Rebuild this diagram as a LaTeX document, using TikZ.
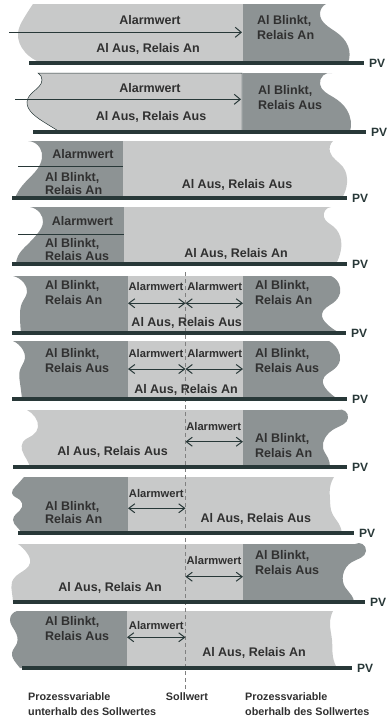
\documentclass[tikz,border=0pt]{standalone}
\usepackage{fontspec}
\setmainfont{Liberation Sans}
\usepackage{tikz}
\usetikzlibrary{hobby,arrows.meta}
\definecolor{lightgr}{HTML}{C8C9C9}
\definecolor{darkgr}{HTML}{8D9394}
\definecolor{linegr}{HTML}{283838}
\definecolor{textgr}{HTML}{303030}
\tikzset{
    lightpart/.style={fill=lightgr},
    darkpart/.style={fill=darkgr},
    pvline/.style={draw=linegr, line width=4pt},
    pvlbl/.style={anchor=west, xshift=3pt, inner sep=0pt, text=linegr, font=\bfseries\fontsize{12}{14}\selectfont},
    lbl/.style={inner sep=0pt, text=textgr, font=\bfseries\fontsize{12.5}{15}\selectfont},
    twolbl/.style={lbl, anchor=west, align=left},
    tight/.style={font=\bfseries\fontsize{12.5}{13}\selectfont},
    alm/.style={lbl, font=\bfseries\fontsize{11.2}{13}\selectfont},
    thresh/.style={draw=linegr, line width=1pt},
    pointer/.style={thresh, -{Straight Barb[length=6pt,width=10pt]}},
    span/.style={thresh, {Straight Barb[length=6pt,width=9pt]}-{Straight Barb[length=6pt,width=9pt]}},
    setp/.style={draw=gray, line width=0.7pt, dash pattern=on 4pt off 3pt},
    foot/.style={inner sep=0pt, text=textgr, font=\bfseries\fontsize{10.8}{15}\selectfont, align=left}
}
\begin{document}
\begin{tikzpicture}[x=1pt,y=-1pt]
        \useasboundingbox (0,0) rectangle (389,721);
        % band 1
        \fill[lightpart] (243,4) -- (33,4) to [curve through={(24,18) (18,33) (25,52)}] (42,63) -- (243,63) -- cycle;
        \fill[darkpart] (243,4) -- (326,4) to [curve through={(320,14) (336,32) (348,46)}] (348,63) -- (243,63) -- cycle;
        % band 2
        \filldraw[lightpart, draw=linegr, line width=0.5pt] (242,73) -- (38,73) to [curve through={(42,80) (33,92) (27,102) (33,114) (47,124)}] (60,132) -- (242,132) -- cycle;
        \fill[darkpart] (242.3,73) -- (332,73) to [curve through={(320,84) (333,97) (347,110)}] (350,132) -- (242.3,132) -- cycle;
        % band 3
        \fill[darkpart] (123,141) -- (28,141) to [curve through={(40,148) (42,158) (35,172) (22,186)}] (15,198) -- (123,198) -- cycle;
        \fill[lightpart] (123,141) -- (333,141) to [curve through={(330,152) (343,167) (347,183)}] (342,198) -- (123,198) -- cycle;
        % band 4
        \fill[darkpart] (124,207) -- (30,207) to [curve through={(40,213) (43,222) (38,233) (27,245) (18,256)}] (16,264) -- (124,264) -- cycle;
        \fill[lightpart] (124,207) -- (331,207) to [curve through={(324,217) (334,227) (341,240) (340,254)}] (336,264) -- (124,264) -- cycle;
        % band 5
        \fill[darkpart] (128,276) -- (13,276) to [curve through={(24,283) (27,292) (22,303) (20,317)}] (21,333) -- (128,333) -- cycle;
        \fill[lightpart] (128,276) rectangle (243,333);
        \fill[darkpart] (243,276) -- (331,276) to [curve through={(339,284) (340,293) (333,303) (322,314) (327,324)}] (340,333) -- (243,333) -- cycle;
        % band 6
        \fill[darkpart] (128,341) -- (13,341) to [curve through={(23,350) (25,358) (20,370) (20,383)}] (22,399) -- (128,399) -- cycle;
        \fill[lightpart] (128,341) rectangle (243,399);
        \fill[darkpart] (243,341) -- (329,341) to [curve through={(338,350) (340,360) (333,370) (323,380) (327,390)}] (338,399) -- (243,399) -- cycle;
        % band 7
        \fill[lightpart] (243,410) -- (27,410) to [curve through={(35,417) (38,427) (33,435) (23,442) (22,450) (27,460)}] (30,467) -- (243,467) -- cycle;
        \fill[darkpart] (243,410) -- (338,410) to [curve through={(348,418) (336,428) (325,438) (323,448) (328,458)}] (330,467) -- (243,467) -- cycle;
        % band 8
        \fill[darkpart] (128,477) -- (24,477) to [curve through={(15,487) (12,493) (20,500) (22,507) (16,514) (13,520) (17,527)}] (22,533) -- (128,533) -- cycle;
        \fill[lightpart] (128,477) -- (334,477) to [curve through={(330,488) (330,500) (332,513) (339,524)}] (342,533) -- (128,533) -- cycle;
        % band 9
        \fill[lightpart] (243,544) -- (18,544) to [curve through={(27,553) (30,563) (20,573) (12,582) (12,593)}] (13,602) -- (243,602) -- cycle;
        \fill[darkpart] (243,544) -- (355,544) to [curve through={(366,551) (352,562) (343,575) (345,587) (352,596)}] (354,602) -- (243,602) -- cycle;
        % band 10
        \fill[darkpart] (127,611) -- (17,611) to [curve through={(10,620) (15,631) (17,643) (12,653) (16,663)}] (20,668) -- (127,668) -- cycle;
        \fill[lightpart] (127,611) -- (333,611) to [curve through={(330,623) (332,640) (333,657)}] (337,668) -- (127,668) -- cycle;

        \coordinate (swtop) at (185.5,272);
        \coordinate (swbot) at (185.5,690);
        \draw[setp] (swtop) -- (swbot);

        \draw[pvline] (29,63) -- (364,63) node[pvlbl] (pv1) {PV};
        \draw[pvline] (33,132) -- (366,132) node[pvlbl] (pv2) {PV};
        \draw[pvline] (12,198) -- (347,198) node[pvlbl] (pv3) {PV};
        \draw[pvline] (12,264) -- (347,264) node[pvlbl] (pv4) {PV};
        \draw[pvline] (12,333) -- (346,333) node[pvlbl] (pv5) {PV};
        \draw[pvline] (12,399) -- (347,399) node[pvlbl] (pv6) {PV};
        \draw[pvline] (13,467) -- (347,467) node[pvlbl] (pv7) {PV};
        \draw[pvline] (18,533) -- (354,533) node[pvlbl] (pv8) {PV};
        \draw[pvline] (13,602) -- (365,602) node[pvlbl] (pv9) {PV};
        \draw[pvline] (22,668) -- (352,668) node[pvlbl] (pv10) {PV};

        \node [lbl] (am1) at (150,20) {Alarmwert};
        \node [lbl] (st1) at (148,49) {Al Aus, Relais An};
        \node [twolbl] (bl1) at (257,28) {Al Blinkt,\\Relais An};
        \coordinate (a1s) at (9,32.3);
        \coordinate (a1e) at (242,32.3);
        \draw [pointer] (a1s) -- (a1e);

        \node [lbl] (am2) at (150,88) {Alarmwert};
        \node [lbl] (st2) at (151,117) {Al Aus, Relais Aus};
        \node [twolbl] (bl2) at (258,98) {Al Blinkt,\\Relais Aus};
        \coordinate (a2s) at (15,99.3);
        \coordinate (a2e) at (241,99.3);
        \draw [pointer] (a2s) -- (a2e);

        \node [lbl] (am3) at (83,154) {Alarmwert};
        \coordinate (t3s) at (18,166);
        \coordinate (t3e) at (123,166);
        \draw [thresh] (t3s) -- (t3e);
        \node [twolbl, tight] (bl3) at (45,184) {Al Blinkt,\\Relais An};
        \node [lbl] (st3) at (237,185) {Al Aus, Relais Aus};

        \node [lbl] (am4) at (82.5,220.7) {Alarmwert};
        \coordinate (t4s) at (18,234);
        \coordinate (t4e) at (124,234);
        \draw [thresh] (t4s) -- (t4e);
        \node [twolbl, tight] (bl4) at (45,249.5) {Al Blinkt,\\Relais Aus};
        \node [lbl] (st4) at (236,253.5) {Al Aus, Relais An};

        \node [twolbl] (bl5a) at (45,292.5) {Al Blinkt,\\Relais An};
        \node [alm] (am5a) at (156,286.7) {Alarmwert};
        \node [alm] (am5b) at (214.7,286.7) {Alarmwert};
        \coordinate (lo5) at (128,303.3);
        \coordinate (sp5) at (185.5,303.3);
        \coordinate (hi5) at (243,303.3);
        \draw [span] (lo5) -- (sp5);
        \draw [span] (sp5) -- (hi5);
        \node [lbl] (st5) at (186.7,323) {Al Aus, Relais Aus};
        \node [twolbl] (bl5b) at (255,292.5) {Al Blinkt,\\Relais An};

        \node [twolbl] (bl6a) at (45,360.5) {Al Blinkt,\\Relais Aus};
        \node [alm] (am6a) at (156,353.3) {Alarmwert};
        \node [alm] (am6b) at (214.7,353.3) {Alarmwert};
        \coordinate (lo6) at (128,369);
        \coordinate (sp6) at (185.5,369);
        \coordinate (hi6) at (243,369);
        \draw [span] (lo6) -- (sp6);
        \draw [span] (sp6) -- (hi6);
        \node [lbl] (st6) at (186,390) {Al Aus, Relais An};
        \node [twolbl] (bl6b) at (255,360.5) {Al Blinkt,\\Relais Aus};

        \node [alm] (am7) at (213.7,426) {Alarmwert};
        \coordinate (sp7) at (185.5,441.7);
        \coordinate (hi7) at (243,441.7);
        \draw [span] (sp7) -- (hi7);
        \node [lbl] (st7) at (112.5,452) {Al Aus, Relais Aus};
        \node [twolbl] (bl7) at (255,445.3) {Al Blinkt,\\Relais An};

        \node [alm] (am8) at (156.3,493.3) {Alarmwert};
        \coordinate (lo8) at (128,508.3);
        \coordinate (sp8) at (185.5,508.3);
        \draw [span] (lo8) -- (sp8);
        \node [twolbl, tight] (bl8) at (45,513) {Al Blinkt,\\Relais An};
        \node [lbl] (st8) at (255.8,519.3) {Al Aus, Relais Aus};

        \node [alm] (am9) at (214,560) {Alarmwert};
        \coordinate (sp9) at (185.5,576.7);
        \coordinate (hi9) at (243,576.7);
        \draw [span] (sp9) -- (hi9);
        \node [lbl] (st9) at (110,587.7) {Al Aus, Relais An};
        \node [twolbl] (bl9) at (255,562.5) {Al Blinkt,\\Relais Aus};

        \node [alm] (am10) at (156.3,625) {Alarmwert};
        \coordinate (lo10) at (127,637.3);
        \coordinate (sp10) at (185.5,637.3);
        \draw [span] (lo10) -- (sp10);
        \node [twolbl] (bl10) at (45,629) {Al Blinkt,\\Relais Aus};
        \node [lbl] (st10) at (254,652.7) {Al Aus, Relais An};

        \node [foot, anchor=west] (below) at (28,704.5) {Prozessvariable\\unterhalb des Sollwertes};
        \node [foot] (sw) at (187,697) {Sollwert};
        \node [foot, anchor=west] (above) at (245,704.5) {Prozessvariable\\oberhalb des Sollwertes};
    \end{tikzpicture}
\end{document}
